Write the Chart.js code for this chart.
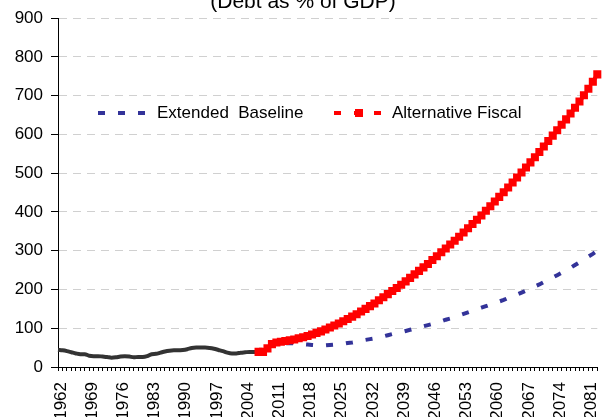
<!DOCTYPE html>
<html>
<head>
<meta charset="utf-8">
<script src="https://cdn.jsdelivr.net/npm/chart.js@4.4.0/dist/chart.umd.min.js"></script>
<style>
  html, body { margin: 0; padding: 0; background: #fff; overflow: hidden; }
  #chartDebt { display: block; }
</style>
</head>
<body>
<canvas id="chartDebt" width="603" height="417"></canvas>
<script>
/* ---------- Data (debt as % of GDP) ---------- */
const firstYear = 1962;
const lastYear = 2083;
const tickYears = [1962, 1969, 1976, 1983, 1990, 1997, 2004, 2011, 2018, 2025, 2032, 2039, 2046, 2053, 2060, 2067, 2074, 2081];
const yTicks = [0, 100, 200, 300, 400, 500, 600, 700, 800, 900];

const historyStart = 1962;
const historyDebt = [44, 43, 41, 38, 35, 33, 33, 29, 28, 28, 27, 26, 24, 25, 27, 28, 27, 25, 26, 26,
  28, 33, 34, 37, 40, 42, 43, 43, 44, 46, 49, 50, 50, 50, 49, 47, 44, 41, 37, 35,
  35, 37, 38, 39, 39, 39];

const altStart = 2007;
const altFiscal = [39, 39, 48, 59, 63, 65, 67, 69, 71, 74, 77, 80, 84, 88, 92, 97, 102, 107, 112, 118,
  124, 130, 136, 143, 150, 157, 164, 172, 180, 188, 196, 204, 212, 221, 230, 239, 248, 257, 266, 276,
  286, 296, 306, 316, 326, 336, 347, 358, 369, 380, 391, 403, 415, 427, 439, 451, 463, 476, 489, 502,
  515, 528, 541, 555, 569, 583, 597, 611, 625, 639, 654, 669, 685, 701, 718, 736, 755];

const baseStart = 2009;
const extBaseline = [48, 57, 60, 61, 61, 61, 61, 60, 59, 58, 57, 56, 56, 56, 57, 58, 59, 60, 62, 63,
  65, 67, 70, 72, 74, 76, 79, 82, 85, 87, 90, 93, 96, 99, 102, 105, 108, 111, 115, 118,
  122, 125, 129, 133, 137, 141, 145, 149, 153, 157, 161, 165, 169, 173, 178, 182, 187, 192, 197, 202,
  208, 213, 219, 225, 231, 237, 243, 249, 256, 263, 270, 277, 285, 292, 300];

(function () {
  "use strict";

  const $ = (id) => document.getElementById(id);
  const FONT = "'Liberation Sans', Arial, sans-serif";
  const colors = { red: "#ff0000", blue: "#333399", hist: "#333333", grid: "#d0d0d0", ink: "#000000" };

  const years = [];
  for (let y = firstYear; y <= lastYear; y++) years.push(y);
  const pad = (start, vals) => years.map(y => (y >= start && y < start + vals.length) ? vals[y - start] : null);

  /* ---------- Title + legend drawn on the canvas ---------- */
  const decor = {
    id: "decor",
    afterDatasetsDraw(chart) {
      const ctx = chart.ctx;
      ctx.save();
      ctx.fillStyle = colors.ink;
      ctx.font = "21px " + FONT;
      ctx.textAlign = "center";
      ctx.textBaseline = "alphabetic";
      ctx.fillText("(Debt as % of GDP)", 303, 8);

      const ly = 113;
      ctx.lineWidth = 4;
      ctx.setLineDash([7, 13]);
      ctx.strokeStyle = colors.blue;
      ctx.beginPath(); ctx.moveTo(98, ly); ctx.lineTo(146, ly); ctx.stroke();
      ctx.strokeStyle = colors.red;
      ctx.beginPath(); ctx.moveTo(334, ly); ctx.lineTo(382, ly); ctx.stroke();
      ctx.setLineDash([]);
      ctx.fillStyle = colors.red;
      ctx.fillRect(355, ly - 4, 8, 8);

      ctx.fillStyle = colors.ink;
      ctx.font = "17px " + FONT;
      ctx.textAlign = "left";
      ctx.textBaseline = "middle";
      ctx.fillText("Extended  Baseline", 157, ly);
      ctx.fillText("Alternative Fiscal", 392, ly);
      ctx.restore();
    }
  };

  new Chart($("chartDebt"), {
    type: "line",
    data: {
      labels: years,
      datasets: [
        { label: "Alternative Fiscal", data: pad(altStart, altFiscal), borderColor: colors.red, backgroundColor: colors.red,
          borderWidth: 4, borderDash: [7, 13], pointStyle: "rect", pointRadius: 5.7, pointHoverRadius: 5.7, pointBorderWidth: 0, tension: 0 },
        { label: "Extended  Baseline", data: pad(baseStart, extBaseline), borderColor: colors.blue, borderWidth: 4,
          borderDash: [7, 13], pointRadius: 0, tension: 0 },
        { label: "History", data: pad(historyStart, historyDebt), borderColor: colors.hist, borderWidth: 4,
          pointRadius: 0, cubicInterpolationMode: "monotone" }
      ]
    },
    options: {
      responsive: false,
      animation: false,
      layout: { padding: { top: 15, left: 0, right: 0, bottom: 0 } },
      plugins: { legend: { display: false }, title: { display: false }, tooltip: { enabled: false } },
      scales: {
        x: {
          offset: false,
          grid: { drawOnChartArea: false, tickLength: 4, tickColor: colors.ink },
          border: { color: colors.ink, width: 1 },
          ticks: {
            autoSkip: false, minRotation: 90, maxRotation: 90, padding: 11, labelOffset: 3,
            color: colors.ink, font: { family: FONT, size: 17 },
            callback: (v, i) => tickYears.includes(years[i]) ? String(years[i]) : ""
          },
          afterFit: (s) => { s.height = 50; s.paddingLeft = 0; s.paddingRight = 0; }
        },
        y: {
          min: yTicks[0], max: yTicks[yTicks.length - 1],
          afterBuildTicks: (s) => { s.ticks = yTicks.map(v => ({ value: v })); },
          grid: { color: (c) => c.tick && c.tick.value === 0 ? "rgba(0,0,0,0)" : colors.grid, tickLength: 7, tickColor: colors.ink },
          border: { color: colors.ink, width: 1, dash: [8, 6] },
          ticks: { padding: 8, color: colors.ink, font: { family: FONT, size: 17 } },
          afterFit: (s) => { s.width = 58; }
        }
      }
    },
    plugins: [decor]
  });
})();
</script>
</body>
</html>
